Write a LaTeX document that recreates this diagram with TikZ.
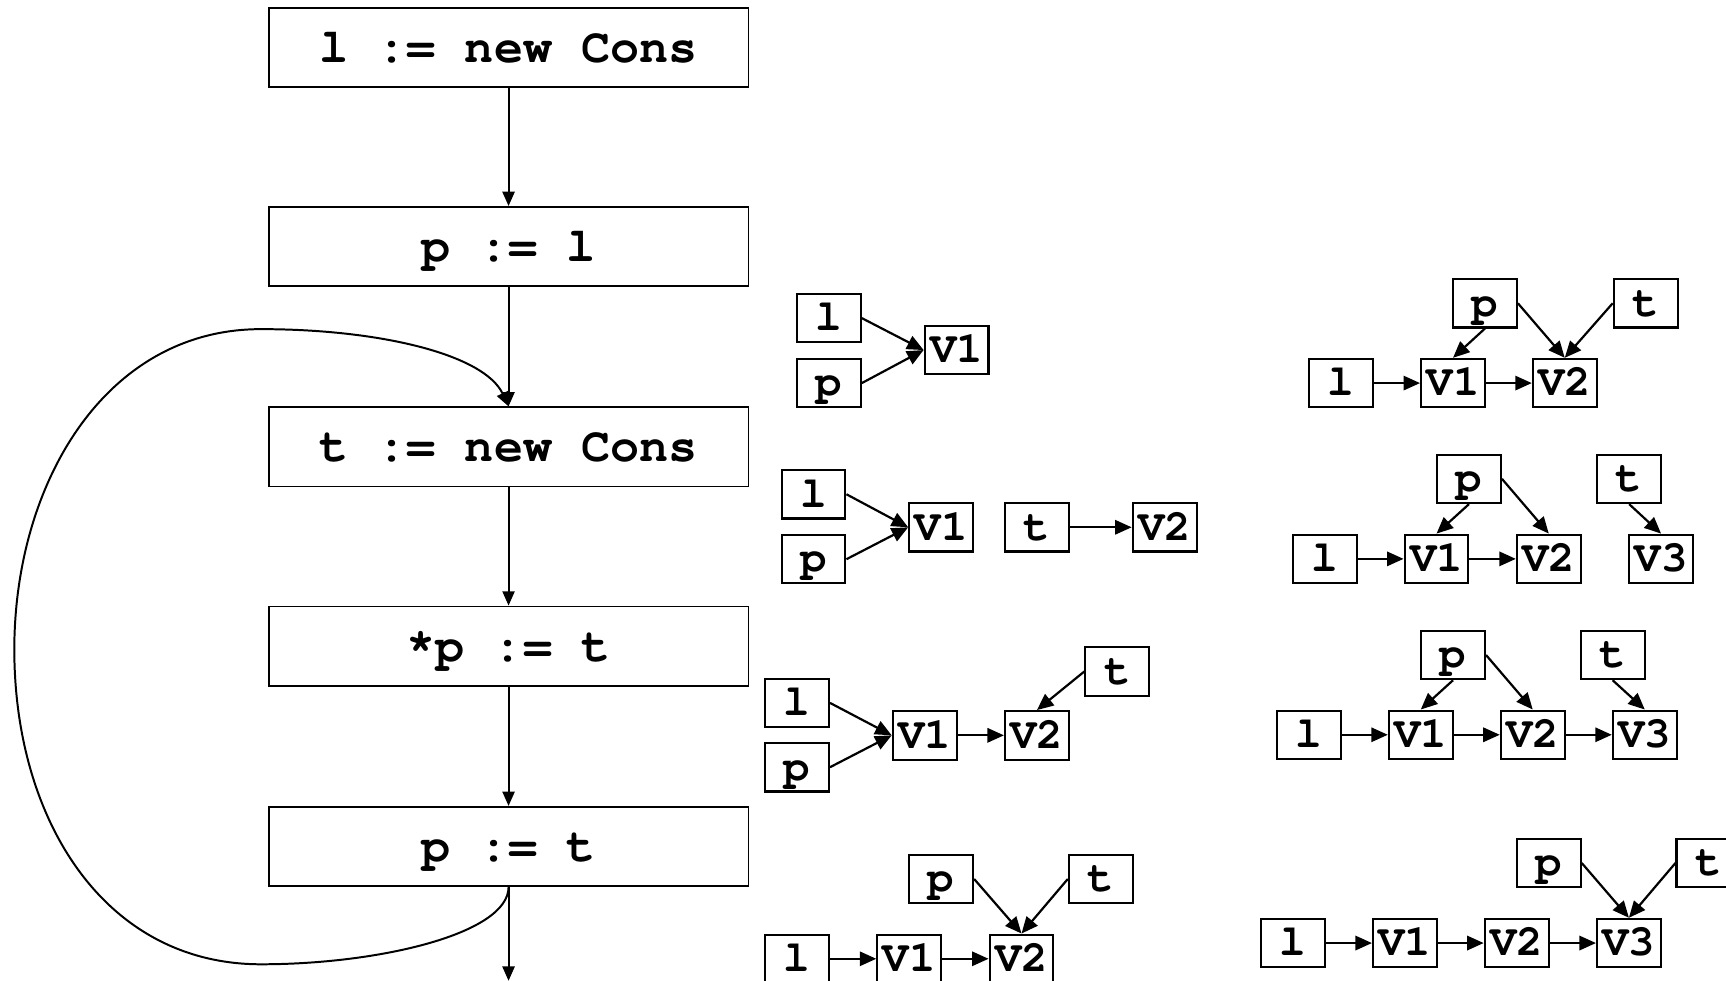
\documentclass[tikz,border=0pt]{standalone}
\usepackage{fontspec}
\setmainfont{TeX Gyre Cursor}
\usetikzlibrary{arrows.meta}
\tikzset{
  mainbox/.style={draw, line width=0.85pt, minimum width=218pt, minimum height=36pt, inner sep=0pt,
    font=\fontsize{22pt}{22pt}\selectfont\bfseries, text height=13.6pt, text depth=0pt},
  sbox/.style={draw, line width=0.95pt, minimum width=29pt, minimum height=22pt, inner sep=0pt,
    font=\fontsize{20pt}{20pt}\selectfont\bfseries, text height=11.6pt, text depth=0pt},
  conn/.style={line width=0.9pt, -{Triangle[length=6.5pt,width=5.5pt]}},
  sconn/.style={line width=1pt, -{Triangle[length=7.5pt,width=6.5pt]}},
}
\begin{document}
\begin{tikzpicture}[x=0.5pt,y=-0.5pt]
\useasboundingbox (0,0) rectangle (1568,891);
% main column
\node[mainbox] (b1) at (462,43) {l := new Cons};
\node[mainbox] (b2) at (462,224) {p := l};
\node[mainbox] (b3) at (462,406) {t := new Cons};
\node[mainbox] (b4) at (462,587) {*p := t};
\node[mainbox] (b5) at (462,769) {p := t};
\coordinate (bend) at (462,891);
\draw[conn] (b1) -- (b2);
\draw[conn] (b2) -- (b3);
\draw[conn] (b3) -- (b4);
\draw[conn] (b4) -- (b5);
\draw[conn] (b5) -- (bend);
\draw[conn] (b5.south) .. controls (462,848) and (345,876) .. (237,876)
  .. controls (95,876) and (13,745) .. (13,590)
  .. controls (13,440) and (95,299) .. (237,299)
  .. controls (345,299) and (440,322) .. (b3.north);
% group A
\node[sbox] (al) at (753,289) {l};
\node[sbox] (ap) at (753,348) {p};
\node[sbox] (av1) at (869,318) {V1};
\draw[sconn] (al.east) -- (av1.west);
\draw[sconn] (ap.east) -- (av1.west);
% group B
\node[sbox] (bl) at (739,449) {l};
\node[sbox] (bp) at (739,508) {p};
\node[sbox] (bv1) at (855,479) {V1};
\node[sbox] (bt) at (942,479) {t};
\node[sbox] (bv2) at (1058,479) {V2};
\draw[sconn] (bl.east) -- (bv1.west);
\draw[sconn] (bp.east) -- (bv1.west);
\draw[sconn] (bt) -- (bv2);
% group C
\node[sbox] (cl) at (724,638.5) {l};
\node[sbox] (cp) at (724,697) {p};
\node[sbox] (cv1) at (840,668) {V1};
\node[sbox] (cv2) at (942,668) {V2};
\node[sbox] (ct) at (1015,610) {t};
\draw[sconn] (cl.east) -- (cv1.west);
\draw[sconn] (cp.east) -- (cv1.west);
\draw[sconn] (cv1) -- (cv2);
\draw[sconn] (ct.west) -- (cv2.north);
% group D
\node[sbox] (dp) at (855,798.5) {p};
\node[sbox] (dt) at (1000,798.5) {t};
\node[sbox] (dl) at (724,871) {l};
\node[sbox] (dv1) at (826,871) {V1};
\node[sbox] (dv2) at (928,871) {V2};
\draw[sconn] (dl) -- (dv1);
\draw[sconn] (dv1) -- (dv2);
\draw[sconn] (dp.east) -- (dv2.north);
\draw[sconn] (dt.west) -- (dv2.north);
% group E
\node[sbox] (ep) at (1349,275.5) {p};
\node[sbox] (et) at (1495,275.5) {t};
\node[sbox] (el) at (1218,348) {l};
\node[sbox] (ev1) at (1320,348) {V1};
\node[sbox] (ev2) at (1421.5,348) {V2};
\draw[sconn] (el) -- (ev1);
\draw[sconn] (ev1) -- (ev2);
\draw[sconn] (ep.south) -- (ev1.north);
\draw[sconn] (ep.east) -- (ev2.north);
\draw[sconn] (et.west) -- (ev2.north);
% group F
\node[sbox] (fp) at (1334.5,435) {p};
\node[sbox] (ft) at (1480,435) {t};
\node[sbox] (fl) at (1203.5,507.7) {l};
\node[sbox] (fv1) at (1305,507.7) {V1};
\node[sbox] (fv2) at (1407,507.7) {V2};
\node[sbox] (fv3) at (1509,507.7) {V3};
\draw[sconn] (fl) -- (fv1);
\draw[sconn] (fv1) -- (fv2);
\draw[sconn] (fp.south) -- (fv1.north);
\draw[sconn] (fp.east) -- (fv2.north);
\draw[sconn] (ft.south) -- (fv3.north);
% group G
\node[sbox] (gp) at (1320,595) {p};
\node[sbox] (gt) at (1465,595) {t};
\node[sbox] (gl) at (1189,667.5) {l};
\node[sbox] (gv1) at (1290.7,667.5) {V1};
\node[sbox] (gv2) at (1392.4,667.5) {V2};
\node[sbox] (gv3) at (1494.2,667.5) {V3};
\draw[sconn] (gl) -- (gv1);
\draw[sconn] (gv1) -- (gv2);
\draw[sconn] (gv2) -- (gv3);
\draw[sconn] (gp.south) -- (gv1.north);
\draw[sconn] (gp.east) -- (gv2.north);
\draw[sconn] (gt.south) -- (gv3.north);
% group H
\node[sbox] (hp) at (1407,784) {p};
\node[sbox] (ht) at (1552,784) {t};
\node[sbox] (hl) at (1174.5,856.7) {l};
\node[sbox] (hv1) at (1276.3,856.7) {V1};
\node[sbox] (hv2) at (1377.8,856.7) {V2};
\node[sbox] (hv3) at (1479.8,856.7) {V3};
\draw[sconn] (hl) -- (hv1);
\draw[sconn] (hv1) -- (hv2);
\draw[sconn] (hv2) -- (hv3);
\draw[sconn] (hp.east) -- (hv3.north);
\draw[sconn] (ht.west) -- (hv3.north);
\end{tikzpicture}
\end{document}
